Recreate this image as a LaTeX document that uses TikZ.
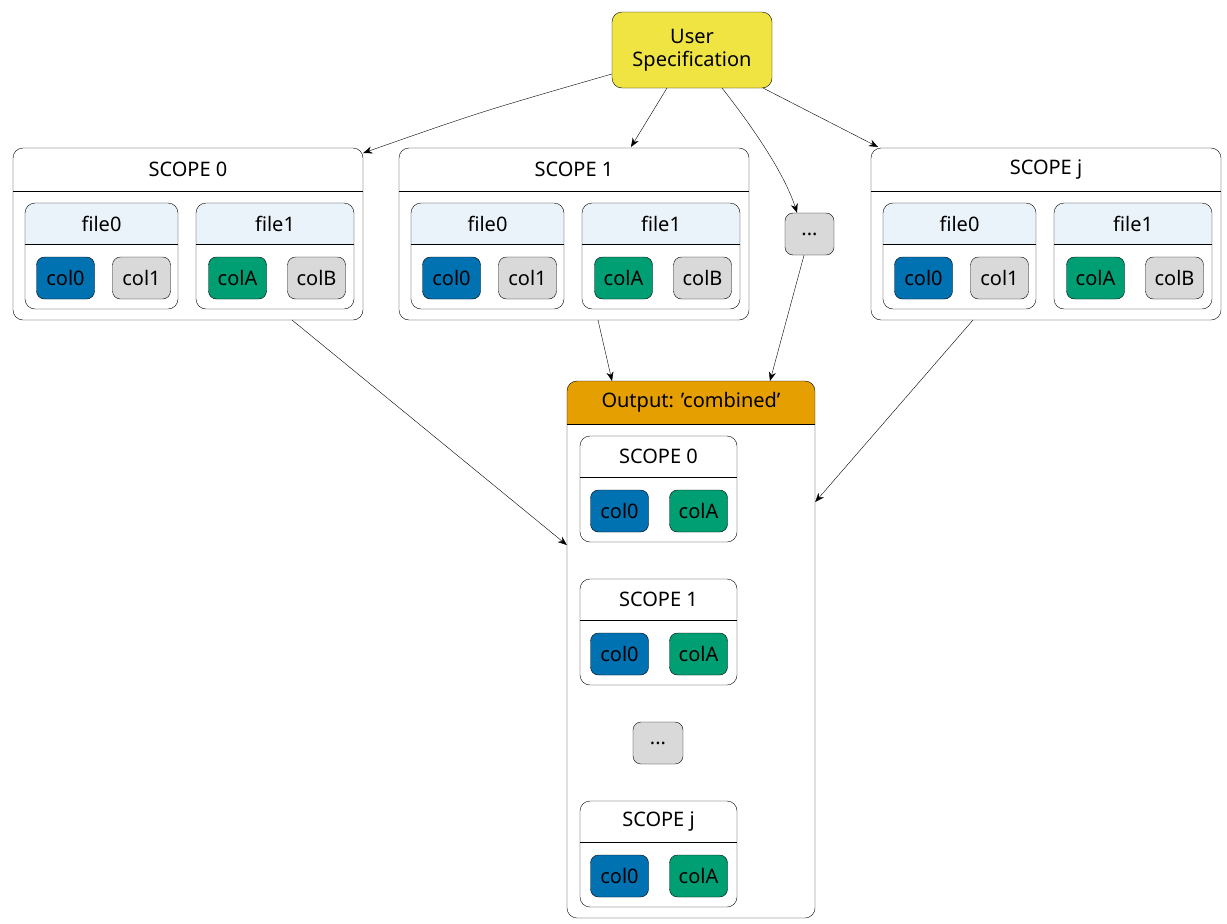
\documentclass[tikz,border=0pt]{standalone}
\usepackage{fontspec}
\setmainfont{Noto Sans}
\usetikzlibrary{fit,arrows.meta}
\definecolor{cblue}{HTML}{0072B2}
\definecolor{cgreen}{HTML}{009E73}
\definecolor{cgrey}{HTML}{D9D9D9}
\definecolor{cfile}{HTML}{EAF2FA}
\definecolor{cyel}{HTML}{F0E442}
\definecolor{corange}{HTML}{E69F00}
\tikzset{
  txt/.style={font=\fontsize{20}{23}\selectfont\bfseries, align=center},
  colbox/.style={draw, rounded corners=8pt, minimum width=58pt, minimum height=42pt, inner sep=0pt, txt},
  frame/.style={draw, rounded corners=10pt, inner sep=0pt},
  arr/.style={-{Stealth[length=9pt,width=7pt]}, thin},
}
% name, x1, y1, x2, y2, yline, headerfill, title
\newcommand\grp[8]{%
  \begin{scope}\clip[rounded corners=10pt] (#2,#3) rectangle (#4,#5);
  \fill[#7] (#2,#3) rectangle (#4,#6);\end{scope}
  \node[frame, fit={(#2,#3)(#4,#5)}] (#1) {};
  \draw (#2,#6) -- (#4,#6);
  \node[txt] at ({(#2+#4)/2},{(#3+#6)/2}) {#8};
}
\newcommand\cb[5]{\node[colbox, fill=#4] (#1) at (#2,#3) {#5};}
\begin{document}
\begin{tikzpicture}[x=1pt,y=-1pt]
\useasboundingbox (0,0) rectangle (1227,924);
% user spec
\node[colbox, fill=cyel, fit={(612,12)(772,88)}, rounded corners=10pt] (user) {};
\node[txt] at (692,50) {User\\Specification};
% top scopes
\newcommand\topscope[2]{% prefix, x offset
  \grp{#1}{13+#2}{148}{363+#2}{320}{191}{white}{SCOPE \csname lbl#1\endcsname}
  \grp{#1f0}{25+#2}{203}{178+#2}{309}{244}{cfile}{file0}
  \grp{#1f1}{196+#2}{203}{354+#2}{309}{244}{cfile}{file1}
  \cb{#1c0}{65.5+#2}{278}{cblue}{col0}
  \cb{#1c1}{141.5+#2}{278}{cgrey}{col1}
  \cb{#1cA}{237.5+#2}{278}{cgreen}{colA}
  \cb{#1cB}{316.5+#2}{278}{cgrey}{colB}
}
\def\lblsa{0}\def\lblsb{1}\def\lblsj{j}
\topscope{sa}{0}
\topscope{sb}{386}
\topscope{sj}{858}
\node[colbox, fill=cgrey, minimum width=49pt] (dots) at (809.5,234) {...};
% output
\grp{out}{567}{381}{815}{918}{424}{corange}{Output: 'combined'}
\newcommand\outscope[4]{% prefix, y offset, label
  \grp{#1}{580}{436+#2}{737}{542+#2}{477+#2}{white}{SCOPE #3}
  \cb{#1c0}{619.5}{511+#2}{cblue}{col0}
  \cb{#1cA}{698.5}{511+#2}{cgreen}{colA}
}
\outscope{oa}{0}{0}{}
\outscope{ob}{143}{1}{}
\outscope{oj}{365}{j}{}
\node[colbox, fill=cgrey, minimum width=50pt] (odots) at (658,743) {...};
% arrows
\draw[arr] (user.west |- 0,74) .. controls (480,112) .. (sa.north east |- 0,153);
\draw[arr] (667,88) -- (631,147);
\draw[arr] (722,88) .. controls (755,130) and (785,175) .. (dots.north -| 797,0);
\draw[arr] (763,88) -- (878,147);
\draw[arr] (292,320) -- (out.west |- 0,545);
\draw[arr] (598,320) -- (612,381);
\draw[arr] (dots.south -| 804,0) -- (770,381);
\draw[arr] (973,320) -- (out.east |- 0,502);
\end{tikzpicture}
\end{document}
